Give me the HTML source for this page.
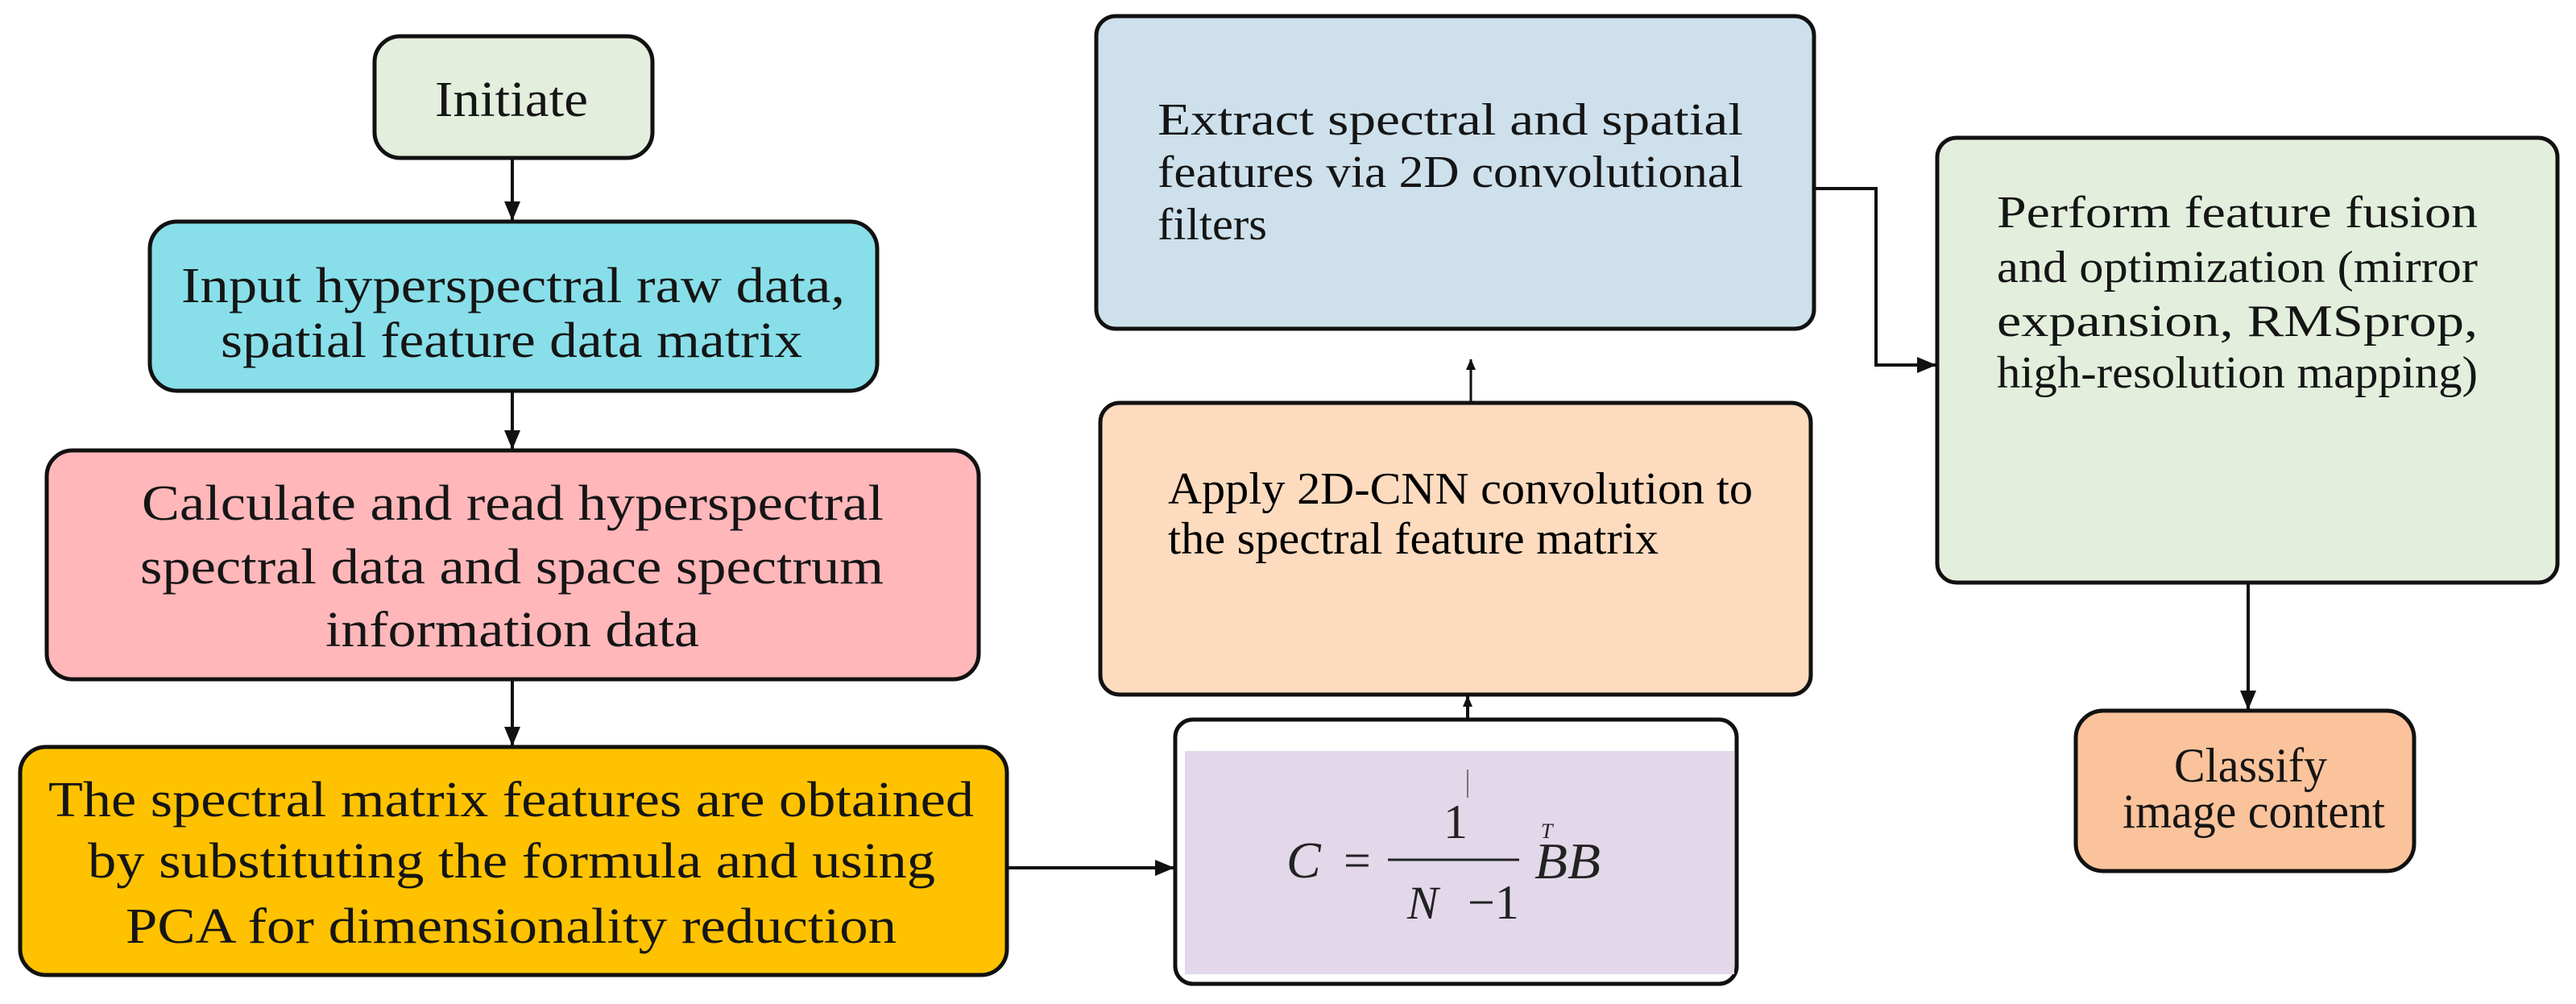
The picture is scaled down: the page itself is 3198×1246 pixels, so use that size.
<!DOCTYPE html>
<html><head><meta charset="utf-8"><style>html,body{margin:0;padding:0;background:#fff}svg{display:block;font-family:"Liberation Serif","Times New Roman",serif}</style></head>
<body>
<svg width="3198" height="1246" viewBox="0 0 3198 1246" xmlns="http://www.w3.org/2000/svg" fill="#151515">
<defs>
<marker id="a" markerWidth="24" markerHeight="20" refX="23" refY="10" orient="auto" markerUnits="userSpaceOnUse" viewBox="0 0 24 20"><path d="M0,0 L24,10 L0,20 z" fill="#111"/></marker>
<marker id="s" markerWidth="14" markerHeight="12" refX="13" refY="6" orient="auto" markerUnits="userSpaceOnUse" viewBox="0 0 14 12"><path d="M0,0 L14,6 L0,12 z" fill="#111"/></marker>
</defs>
<g stroke="#111" stroke-width="5">
<rect x="465" y="45" width="345" height="151" rx="32" fill="#e3eedc"/>
<rect x="186" y="275" width="903" height="210" rx="34" fill="#88dfe9"/>
<rect x="58" y="559" width="1157" height="284" rx="32" fill="#ffb7ba"/>
<rect x="25" y="927" width="1225" height="283" rx="32" fill="#ffc200"/>
<rect x="1361" y="20" width="891" height="388" rx="24" fill="#cde0ec"/>
<rect x="1366" y="500" width="882" height="362" rx="24" fill="#fddbbf"/>
<rect x="1459" y="893" width="697" height="328" rx="22" fill="#fff"/>
<rect x="2405" y="171" width="770" height="552" rx="24" fill="#e3efdc"/>
<rect x="2577" y="882" width="420" height="199" rx="34" fill="#fbc39b"/>
</g>
<rect x="1471" y="932" width="682" height="277" fill="#e2d8e9"/>
<g stroke="#111" stroke-width="4" fill="none">
<line x1="636" y1="198" x2="636" y2="273" marker-end="url(#a)"/>
<line x1="636" y1="487" x2="636" y2="557" marker-end="url(#a)"/>
<line x1="636" y1="845" x2="636" y2="925" marker-end="url(#a)"/>
<line x1="1252" y1="1077" x2="1457" y2="1077" marker-end="url(#a)"/>
<line x1="1822" y1="955" x2="1822" y2="990" stroke-width="2" stroke="#777"/>
<line x1="1822" y1="892" x2="1822" y2="864" marker-end="url(#s)"/>
<line x1="1826" y1="498" x2="1826" y2="446" stroke-width="3" marker-end="url(#s)"/>
<polyline points="2254,234 2329,234 2329,453 2403,453" stroke-width="4" marker-end="url(#a)"/>
<line x1="2791" y1="725" x2="2791" y2="880" marker-end="url(#a)"/>
</g>
<g font-size="62">
<text x="540" y="144" textLength="190" lengthAdjust="spacingAndGlyphs">Initiate</text>
<text x="225" y="375" textLength="824" lengthAdjust="spacingAndGlyphs">Input hyperspectral raw data,</text>
<text x="274" y="443" textLength="722" lengthAdjust="spacingAndGlyphs">spatial feature data matrix</text>
<text x="176" y="645" textLength="921" lengthAdjust="spacingAndGlyphs">Calculate and read hyperspectral</text>
<text x="174" y="724" textLength="923" lengthAdjust="spacingAndGlyphs">spectral data and space spectrum</text>
<text x="404" y="802" textLength="464" lengthAdjust="spacingAndGlyphs">information data</text>
<text x="60" y="1013" textLength="1149" lengthAdjust="spacingAndGlyphs">The spectral matrix features are obtained</text>
<text x="109" y="1089" textLength="1052" lengthAdjust="spacingAndGlyphs">by substituting the formula and using</text>
<text x="156" y="1170" textLength="957" lengthAdjust="spacingAndGlyphs">PCA for dimensionality reduction</text>
</g>
<g font-size="56">
<text x="1437" y="167" textLength="727" lengthAdjust="spacingAndGlyphs">Extract spectral and spatial</text>
<text x="1437" y="232" textLength="727" lengthAdjust="spacingAndGlyphs">features via 2D convolutional</text>
<text x="1437" y="297" textLength="136" lengthAdjust="spacingAndGlyphs">filters</text>
<text x="1450" y="625" textLength="726" lengthAdjust="spacingAndGlyphs" fill="#000">Apply 2D-CNN convolution to</text>
<text x="1450" y="687" textLength="609" lengthAdjust="spacingAndGlyphs" fill="#000">the spectral feature matrix</text>
<text x="2479" y="282" textLength="597" lengthAdjust="spacingAndGlyphs">Perform feature fusion</text>
<text x="2479" y="350" textLength="597" lengthAdjust="spacingAndGlyphs">and optimization (mirror</text>
<text x="2479" y="417" textLength="597" lengthAdjust="spacingAndGlyphs">expansion,      RMSprop,</text>
<text x="2479" y="481" textLength="597" lengthAdjust="spacingAndGlyphs">high-resolution mapping)</text>
<text x="2699" y="970" font-size="60" textLength="190" lengthAdjust="spacingAndGlyphs">Classify</text>
<text x="2635" y="1027" font-size="60" textLength="326" lengthAdjust="spacingAndGlyphs">image content</text>
</g>
<g font-style="italic" font-size="64" fill="#222">
<text x="1597" y="1089">C</text>
<text x="1747" y="1140" font-size="58">N</text>
<text x="1905" y="1090" textLength="82" lengthAdjust="spacingAndGlyphs">BB</text>
<text x="1913" y="1040" font-size="26">T</text>
</g>
<g font-size="60" fill="#222">
<text x="1668" y="1088">=</text>
<text x="1792" y="1040">1</text>
<text x="1822" y="1140">−1</text>
</g>
<line x1="1723" y1="1067" x2="1886" y2="1067" stroke="#222" stroke-width="3"/>
</svg>
</body></html>
